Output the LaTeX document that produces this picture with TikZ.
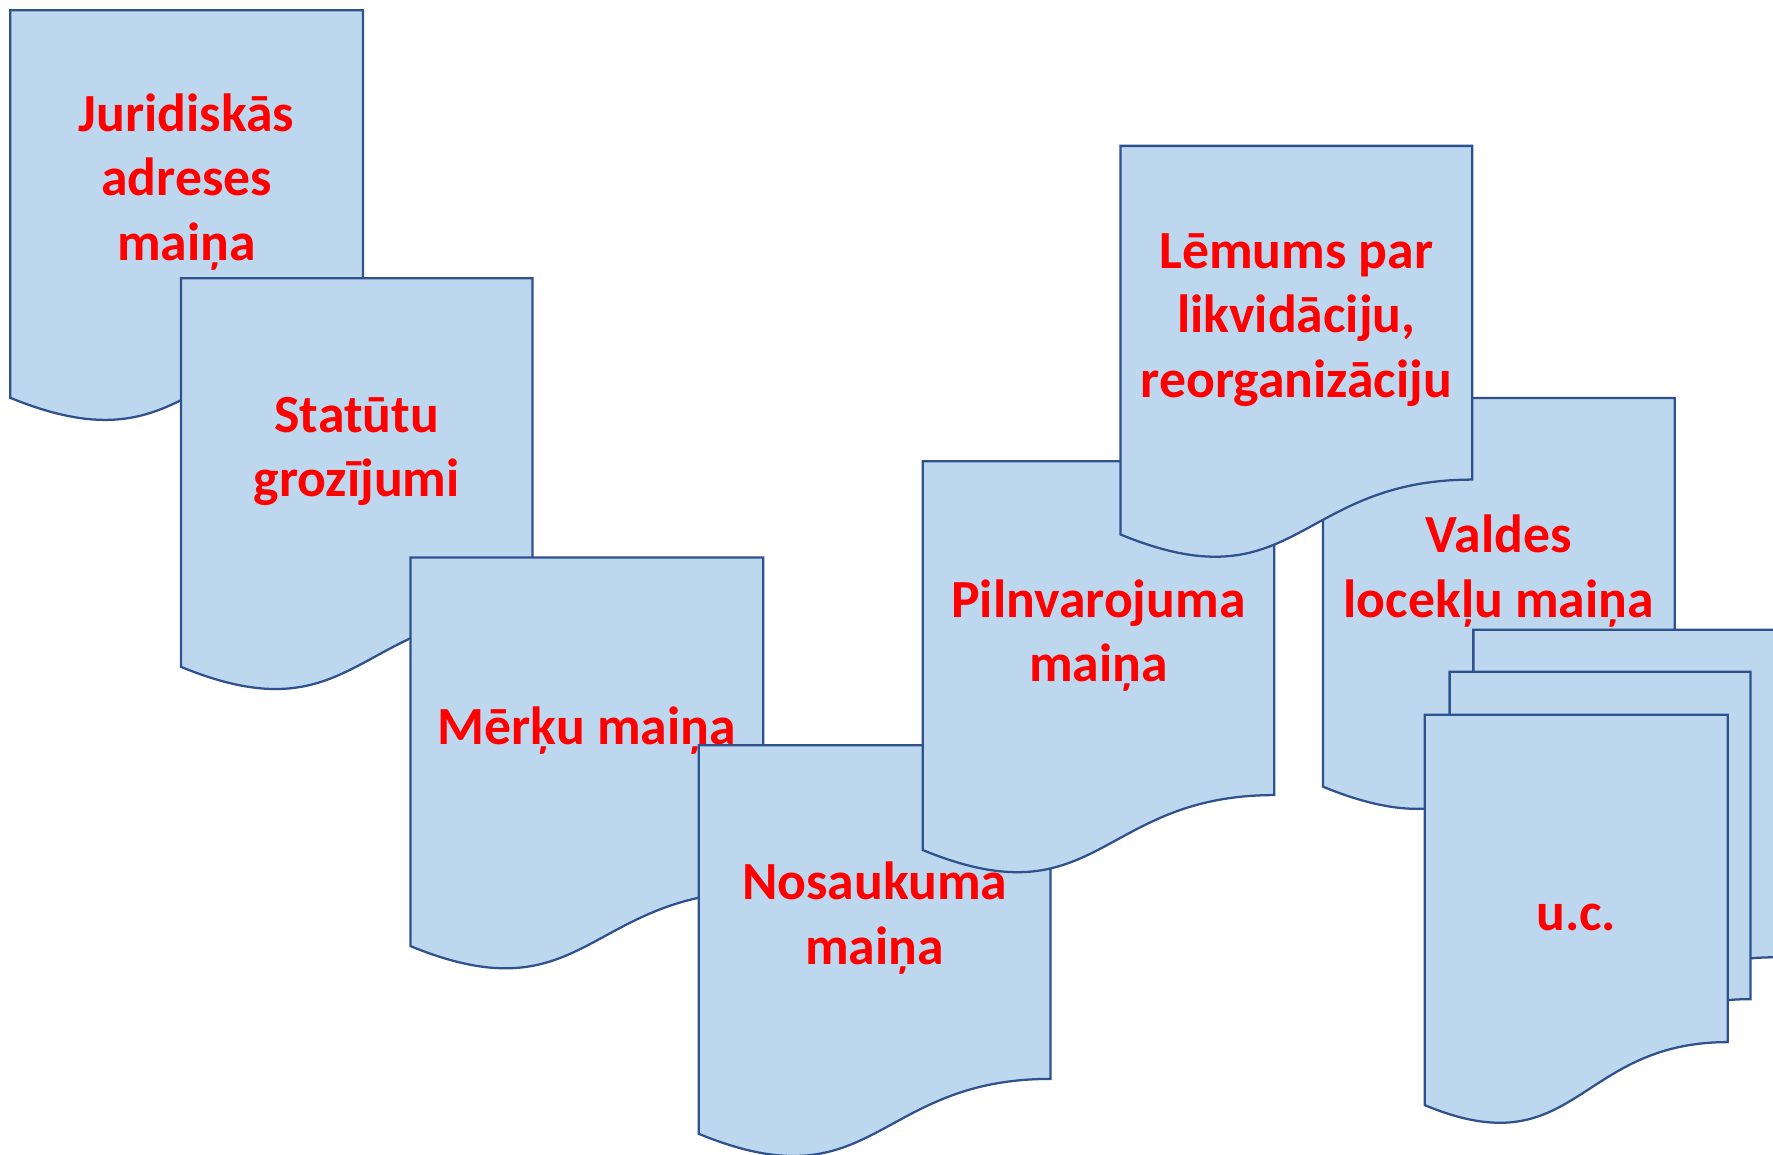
\documentclass[tikz,border=0pt]{standalone}
\usepackage{fontspec}
\setmainfont{Carlito}
\definecolor{docfill}{HTML}{BDD7EE}
\definecolor{docline}{HTML}{2F528F}
\newcommand\mydocsheet[4]{%
  \draw[docbox] (#1,#2) -- ({#1+#3},#2) -- ({#1+#3},{#2+0.802*#4})
    .. controls ({#1+0.5*#3},{#2+0.802*#4}) and ({#1+0.5*#3},{#2+1.1076*#4}) .. (#1,{#2+0.934*#4}) -- cycle;}
\newcommand\mymultisheet[4]{%
  \draw[docbox] (#1,#2) -- ({#1+#3},#2) -- ({#1+#3},{#2+0.80*#4})
    .. controls ({#1+0.5*#3},{#2+0.80*#4}) and ({#1+0.5*#3},{#2+1.108*#4}) .. (#1,{#2+0.954*#4}) -- cycle;}
\begin{document}
\begin{tikzpicture}[x=1pt,y=-1pt,
  docbox/.style={fill=docfill,draw=docline,line width=2pt,line join=miter},
  doctext/.style={text=red,font=\fontsize{47.5}{57}\selectfont\bfseries,align=center,inner sep=0pt}]
\useasboundingbox (0,0) rectangle (1568,1021);
\clip (0,0) rectangle (1568,1021);
% Juridiskas adreses maina
\mydocsheet{9}{9}{312}{367}
\node[doctext] (jur) at (165,161) {Juridiskās\\adreses\\maiņa};
% Statutu grozijumi
\mydocsheet{160}{246}{311}{368}
\node[doctext] (stat) at (315.5,399) {Statūtu\\grozījumi};
% Merku maina
\mydocsheet{363}{493}{312}{368}
\node[doctext] (merk) at (519,646) {Mērķu maiņa};
% Nosaukuma maina
\mydocsheet{618}{659}{311}{368}
\node[doctext] (nos) at (773.5,812) {Nosaukuma\\maiņa};
% Pilnvarojuma maina
\mydocsheet{816}{408}{311}{368}
\node[doctext] (piln) at (971.5,562) {Pilnvarojuma\\maiņa};
% Valdes loceklu maina
\mydocsheet{1170}{352}{311}{368}
\node[doctext] (vald) at (1325.5,505) {Valdes\\locekļu maiņa};
% Lemums
\mydocsheet{991}{129}{311}{368}
\node[doctext] (lem) at (1146.5,283) {Lēmums par\\likvidāciju,\\reorganizāciju};
% u.c. multidocument
\mymultisheet{1303}{557}{266}{362}
\mymultisheet{1282}{594}{266}{362}
\mymultisheet{1260}{632}{268}{362}
\node[doctext] (uc) at (1394,811) {u.c.};
\end{tikzpicture}
\end{document}
